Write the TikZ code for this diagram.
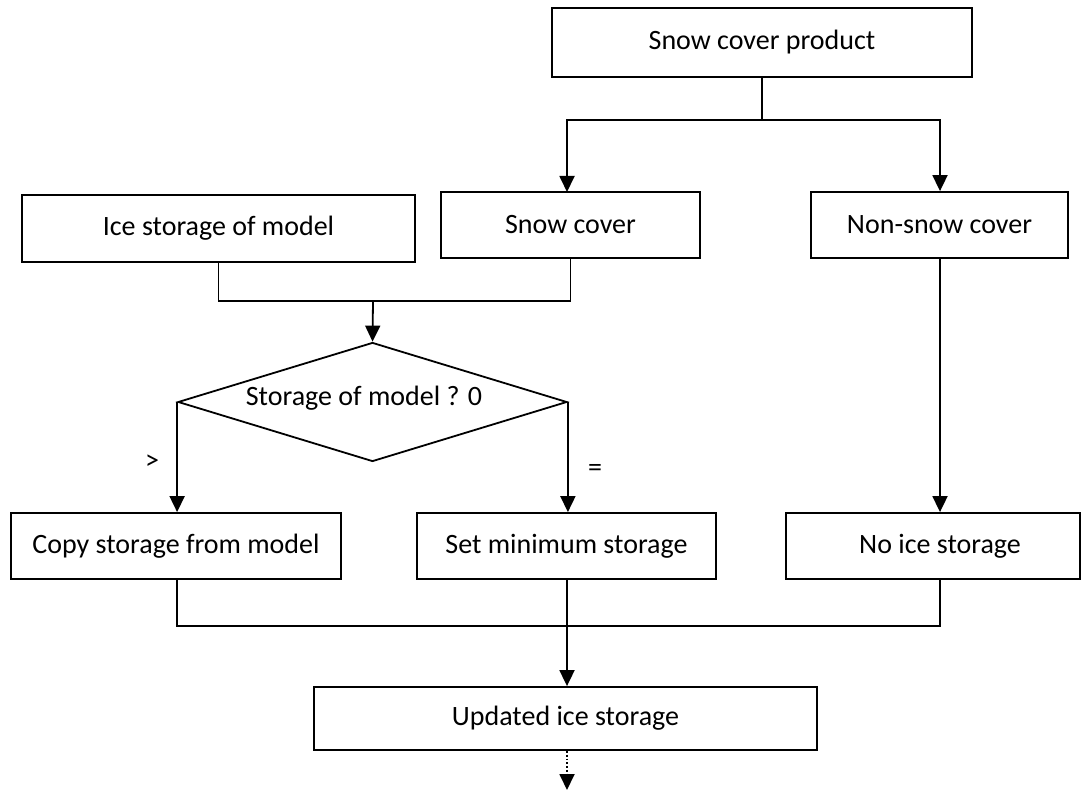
\documentclass[tikz,border=0pt]{standalone}
\usepackage{fontspec}
\setmainfont{Carlito}
\usetikzlibrary{arrows.meta,shapes.geometric}
\begin{document}
\begin{tikzpicture}[x=0.5pt,y=-0.5pt,
  every node/.style={font=\fontsize{14}{17}\selectfont},
  box/.style={draw, line width=0.9pt, inner sep=0pt, minimum height=33pt},
  link/.style={line width=0.9pt},
  arr/.style={line width=0.9pt, -{Triangle[length=8pt,width=7.5pt]}},
  lbl/.style={inner sep=0pt}]
\useasboundingbox (0,0) rectangle (1086,791);

% boxes
\node[box, minimum width=210pt, minimum height=34.5pt] (prod) at (762,42.5) {Snow cover product};
\node[box, minimum width=196.5pt, minimum height=33.5pt] (ice) at (218.5,228.5) {Ice storage of model};
\node[box, minimum width=129.5pt] (snow) at (570.5,225) {Snow cover};
\node[box, minimum width=128.5pt] (nonsnow) at (939.5,225) {Non-snow cover};
\node[draw, line width=0.9pt, diamond, shape aspect=3.3, inner sep=0pt,
      minimum width=194.5pt, minimum height=59.5pt] (dec) at (372.5,402) {};
\node[lbl] (dectext) at (364,398) {Storage of model ? 0};
\node[box, minimum width=165pt] (copy) at (176,546) {Copy storage from model};
\node[box, minimum width=149.5pt] (setmin) at (566.5,546) {Set minimum storage};
\node[box, minimum width=147pt] (noice) at (933,546) {\hspace*{7pt}No ice storage};
\node[box, minimum width=251.5pt, minimum height=31.5pt] (upd) at (565.5,718.5) {Updated ice storage};

% branch labels
\node[lbl] (gt) at (152,462) {>};
\node[lbl] (eq) at (595,470) {=};

% junction points
\coordinate (splitT) at (762,120);
\coordinate (snowIn) at (567,192);
\coordinate (joinA) at (373,301);
\coordinate (joinB) at (567,626);
\coordinate (nsLine) at (940,258);
\coordinate (outEnd) at (567,790);

% snow cover product split
\draw[link] (prod.south) -- (splitT);
\draw[arr] (splitT) -| (snowIn);
\draw[arr] (splitT) -| (nsLine |- nonsnow.north);

% merge into decision
\draw[link] (ice.south) |- (joinA) -| (snow.south);
\draw[arr] (joinA) -- (dec.north);

% decision branches
\draw[arr] (dec.west) -- (dec.west |- copy.north);
\draw[arr] (dec.east) -- (dec.east |- setmin.north);
\draw[arr] (nsLine) -- (nsLine |- noice.north);

% merge into result
\draw[link] (dec.west |- copy.south) |- (joinB) -| (nsLine |- noice.south);
\draw[arr] (joinB |- setmin.south) -- (joinB |- upd.north);
\draw[arr, densely dotted] (outEnd |- upd.south) -- (outEnd);
\end{tikzpicture}
\end{document}
